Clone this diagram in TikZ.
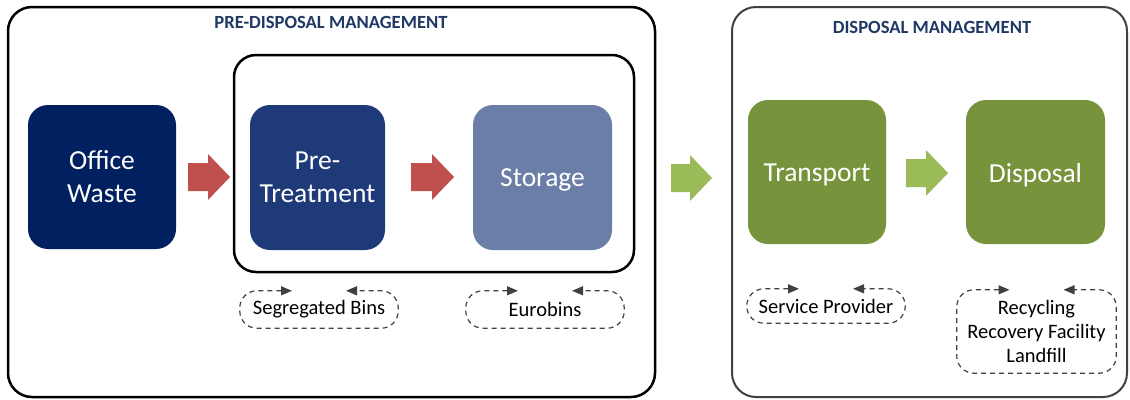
\documentclass[tikz,border=0pt]{standalone}
\usepackage{fontspec}
\setmainfont{Carlito}
\usetikzlibrary{arrows.meta}
\definecolor{navy}{HTML}{002060}
\definecolor{ptblue}{HTML}{1F3A78}
\definecolor{stblue}{HTML}{6B7EA8}
\definecolor{olive}{HTML}{77933C}
\definecolor{lgreen}{HTML}{9BBB59}
\definecolor{bred}{HTML}{C0504D}
\definecolor{titleblue}{HTML}{1F3864}
\definecolor{dgray}{HTML}{404040}
\begin{document}
\begin{tikzpicture}[x=1pt,y=-1pt,
  container/.style={draw, rounded corners=24pt, inner sep=0pt},
  proc/.style={rounded corners=20pt, text=white, align=center, inner sep=0pt,
    font=\fontsize{27.5}{33}\selectfont},
  ttl/.style={font=\fontsize{18.6}{20}\selectfont\bfseries, text=titleblue},
  cyc/.style={align=center, inner sep=0pt, font=\fontsize{20.5}{24}\selectfont},
  cycline/.style={draw=dgray, line width=1.2pt, dash pattern=on 5pt off 4pt, rounded corners=17pt,
    {Triangle[length=11pt,width=9pt]}-{Triangle[length=11pt,width=9pt]}},
]
\useasboundingbox (0,0) rectangle (1130,399);
% containers
\node[container, line width=2.5pt, minimum width=647pt, minimum height=390pt] (pre) at (331.5,202) {};
\node[container, draw=dgray, line width=2pt, minimum width=395pt, minimum height=390pt] (disp) at (929.5,202) {};
\node[container, line width=2.5pt, rounded corners=22pt, minimum width=400pt, minimum height=217pt] (inner) at (434,163.5) {};
\node[ttl] (t1) at (331,22) {PRE-DISPOSAL MANAGEMENT};
\node[ttl] (t2) at (932,27) {DISPOSAL MANAGEMENT};
% process boxes
\node[proc, fill=navy, minimum width=148pt, minimum height=144pt] (office) at (102,177) {Office\\Waste};
\node[proc, fill=ptblue, minimum width=135pt, minimum height=145pt] (pretreat) at (317.5,177.5) {Pre-\\Treatment};
\node[proc, fill=stblue, minimum width=139pt, minimum height=145pt] (storage) at (542.5,177.5) {\raisebox{-2pt}[\height][\depth]{Storage}};
\node[proc, fill=olive, minimum width=138pt, minimum height=144pt] (transport) at (817,172) {\raisebox{-3pt}[\height][\depth]{Transport}};
\node[proc, fill=olive, minimum width=139pt, minimum height=144pt] (disposal) at (1035.5,172) {\raisebox{-3pt}[\height][\depth]{Disposal}};
% block arrows
\newcommand{\blockarrow}[4]{% x-left, y-center, length, color
  \fill[#4] (#1,#2-14) -- (#1+#3-22,#2-14) -- (#1+#3-22,#2-23) -- (#1+#3,#2) -- (#1+#3-22,#2+23) -- (#1+#3-22,#2+14) -- (#1,#2+14) -- cycle;}
\blockarrow{188}{177}{42}{bred}
\blockarrow{411}{177}{43}{bred}
\blockarrow{671}{178}{41}{lgreen}
\blockarrow{906}{173}{42}{lgreen}
% cycle labels
\node[cyc, minimum width=158pt, minimum height=37pt] (segbins) at (319,309.5) {Segregated Bins};
\node[cyc, minimum width=158pt, minimum height=37pt] (eurobins) at (545,309.5) {Eurobins};
\node[cyc, minimum width=158pt, minimum height=34pt] (service) at (826,306) {Service Provider};
\node[cyc, minimum width=159pt, minimum height=83pt] (recyc) at (1036.5,331.5) {Recycling\\Recovery Facility\\Landfill};
\foreach \n in {segbins,eurobins,service,recyc}{
  \draw[cycline] ([xshift=-27pt]\n.north) -- (\n.north west) -- (\n.south west) -- (\n.south east) -- (\n.north east) -- ([xshift=27pt]\n.north);
}
\end{tikzpicture}
\end{document}
